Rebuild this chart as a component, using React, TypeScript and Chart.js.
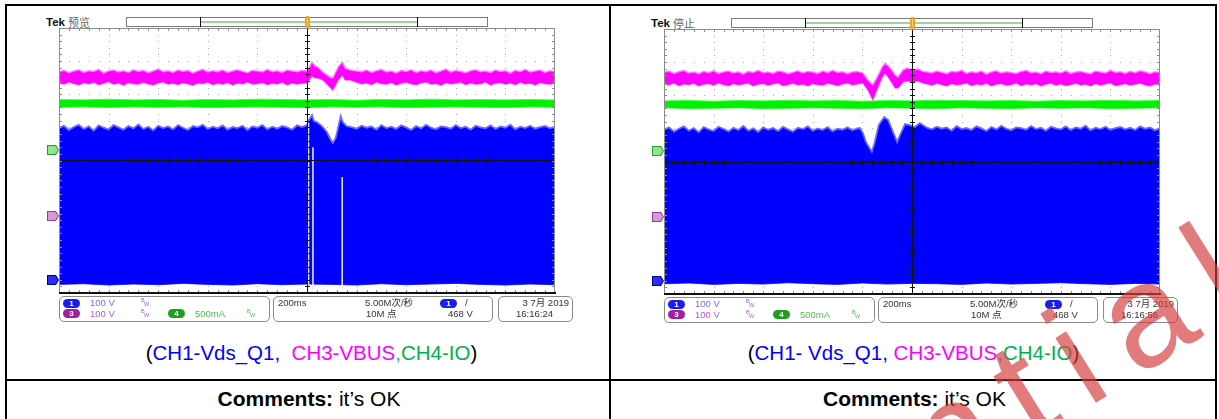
import React, { useEffect, useRef } from "react";
import { Chart, registerables } from "chart.js";

Chart.register(...registerables);

// ---------------- DATA (screen divisions: x 0..10, y -4..+4, 0 = centre) ----------------
const STEP = 0.1; // envelope sample spacing (div)
const STEP_SLOW = 0.5; // spacing of quiet envelopes (div)

// ---- Left capture (Tek 预览) ----
const L3_PRE_HI = [
  2.68, 2.72, 2.65, 2.7, 2.74, 2.66, 2.71, 2.69, 2.75, 2.64,
  2.7, 2.73, 2.67, 2.71, 2.66, 2.74, 2.69, 2.72, 2.65, 2.7,
  2.76, 2.68, 2.71, 2.66, 2.73, 2.69, 2.72, 2.64, 2.7, 2.75,
  2.67, 2.71, 2.68, 2.73, 2.66, 2.7, 2.74, 2.69, 2.65, 2.72,
  2.7, 2.67, 2.75, 2.68, 2.71, 2.66, 2.73, 2.7, 2.68, 2.72,
];
const L3_PRE_LO = [
  2.34, 2.3, 2.37, 2.32, 2.28, 2.35, 2.31, 2.36, 2.29, 2.33,
  2.38, 2.3, 2.34, 2.27, 2.35, 2.32, 2.3, 2.36, 2.31, 2.28,
  2.34, 2.37, 2.3, 2.33, 2.29, 2.35, 2.31, 2.27, 2.34, 2.32,
  2.36, 2.29, 2.33, 2.3, 2.35, 2.28, 2.34, 2.31, 2.37, 2.3,
  2.32, 2.35, 2.29, 2.33, 2.31, 2.36, 2.28, 2.34, 2.3, 2.33,
];
const L3_EVT_T = [5.0, 5.04, 5.1, 5.16, 5.22, 5.32, 5.46, 5.52, 5.63, 5.71, 5.77, 5.87];
const L3_EVT_HI = [2.7, 2.79, 2.97, 2.85, 2.82, 2.67, 2.52, 2.49, 2.82, 2.97, 2.79, 2.73];
const L3_EVT_LO = [2.34, 2.43, 2.55, 2.49, 2.49, 2.43, 2.22, 2.13, 2.43, 2.58, 2.43, 2.43];
const L3_POST_T0 = 6.0;
const L3_POST_HI = [
  2.7, 2.68, 2.73, 2.66, 2.71, 2.75, 2.67, 2.7, 2.64, 2.72,
  2.69, 2.74, 2.66, 2.71, 2.68, 2.73, 2.65, 2.7, 2.76, 2.67,
  2.72, 2.69, 2.65, 2.71, 2.74, 2.68, 2.7, 2.66, 2.73, 2.69,
  2.71, 2.64, 2.72, 2.68, 2.75, 2.67, 2.7, 2.73, 2.66, 2.71, 2.69,
];
const L3_POST_LO = [
  2.36, 2.31, 2.34, 2.29, 2.37, 2.32, 2.3, 2.35, 2.28, 2.33,
  2.36, 2.31, 2.29, 2.34, 2.37, 2.3, 2.32, 2.27, 2.35, 2.31,
  2.33, 2.36, 2.29, 2.34, 2.3, 2.32, 2.37, 2.28, 2.33, 2.35,
  2.3, 2.34, 2.29, 2.36, 2.31, 2.33, 2.28, 2.35, 2.32, 2.3, 2.34,
];
const L4_HI = [1.84, 1.83, 1.85, 1.83, 1.84, 1.82, 1.84, 1.83, 1.85, 1.84, 1.83, 1.84, 1.82, 1.84, 1.83, 1.85, 1.83, 1.84, 1.83, 1.84, 1.83];
const L4_LO = [1.61, 1.62, 1.6, 1.62, 1.61, 1.62, 1.6, 1.61, 1.62, 1.61, 1.6, 1.62, 1.61, 1.62, 1.6, 1.61, 1.62, 1.61, 1.6, 1.62, 1.61];
const L1_PRE_HI = [
  0.98, 1.05, 0.92, 1.01, 1.08, 0.95, 1.03, 0.9, 1.06, 0.99,
  0.94, 1.07, 1.0, 0.93, 1.04, 0.97, 1.09, 0.95, 1.02, 0.91,
  1.05, 0.98, 1.03, 0.94, 1.07, 0.99, 0.92, 1.04, 1.0, 1.08,
  0.95, 1.02, 0.97, 1.06, 0.93, 1.01, 0.98, 1.05, 0.92, 1.03,
  0.99, 1.07, 0.94, 1.02, 0.96, 1.04, 1.0, 0.93, 1.06, 1.01,
];
const L1_EVT_T = [5.0, 5.04, 5.1, 5.14, 5.2, 5.3, 5.4, 5.48, 5.52, 5.58, 5.64, 5.68, 5.72, 5.8];
const L1_EVT_HI = [1.07, 1.22, 1.37, 1.19, 1.16, 1.04, 0.86, 0.62, 0.53, 0.68, 1.07, 1.34, 1.16, 1.04];
const L1_POST_T0 = 5.9;
const L1_POST_HI = [
  1.01, 0.96, 1.05, 0.99, 1.03, 0.93, 1.07, 0.98, 1.02, 0.95,
  1.06, 1.0, 0.92, 1.04, 0.97, 1.08, 0.99, 0.94, 1.03, 1.01,
  0.96, 1.07, 0.98, 1.02, 0.93, 1.05, 1.0, 0.97, 1.06, 0.95,
  1.03, 0.99, 1.08, 0.94, 1.02, 0.98, 1.05, 0.96, 1.01, 1.04,
  0.97, 1.02,
];
const L1_LO = [-3.74, -3.72, -3.76, -3.73, -3.75, -3.71, -3.74, -3.76, -3.72, -3.75, -3.73, -3.74, -3.76, -3.72, -3.75, -3.73, -3.71, -3.74, -3.76, -3.73, -3.75];
const L1_GAP_T = [5.03, 5.12, 5.71];
const L1_GAP_TOP = [1.13, 0.4, -0.5];

// ---- Right capture (Tek 停止) ----
const R3_PRE_HI = [
  2.69, 2.73, 2.66, 2.71, 2.75, 2.67, 2.7, 2.65, 2.72, 2.68,
  2.74, 2.66, 2.7, 2.73, 2.67, 2.71, 2.64, 2.72, 2.69, 2.75,
  2.68, 2.7, 2.66, 2.73, 2.71, 2.65, 2.69, 2.74, 2.67, 2.72,
  2.7, 2.66, 2.73, 2.68, 2.75, 2.69, 2.71, 2.65, 2.7, 2.72,
];
const R3_PRE_LO = [
  2.35, 2.31, 2.37, 2.29, 2.34, 2.32, 2.36, 2.28, 2.33, 2.35,
  2.3, 2.37, 2.32, 2.29, 2.35, 2.31, 2.34, 2.36, 2.28, 2.33,
  2.35, 2.3, 2.34, 2.37, 2.29, 2.32, 2.36, 2.31, 2.33, 2.28,
  2.35, 2.32, 2.3, 2.36, 2.33, 2.29, 2.34, 2.37, 2.31, 2.34,
];
const R3_EVT_T = [4.01, 4.11, 4.21, 4.29, 4.4, 4.46, 4.56, 4.66, 4.72, 4.82, 4.9, 5.02, 5.12, 5.22];
const R3_EVT_HI = [2.67, 2.46, 2.31, 2.52, 2.85, 2.97, 2.82, 2.61, 2.55, 2.76, 2.82, 2.76, 2.79, 2.72];
const R3_EVT_LO = [2.37, 2.16, 1.86, 2.16, 2.55, 2.67, 2.46, 2.22, 2.22, 2.4, 2.43, 2.4, 2.43, 2.37];
const R3_POST_T0 = 5.3;
const R3_POST_HI = [
  2.7, 2.67, 2.73, 2.69, 2.65, 2.72, 2.7, 2.75, 2.66, 2.71,
  2.68, 2.73, 2.64, 2.7, 2.74, 2.67, 2.71, 2.69, 2.66, 2.72,
  2.75, 2.68, 2.7, 2.65, 2.73, 2.69, 2.71, 2.67, 2.74, 2.66,
  2.7, 2.72, 2.68, 2.65, 2.73, 2.7, 2.67, 2.75, 2.69, 2.71,
  2.66, 2.72, 2.68, 2.74, 2.7, 2.65, 2.71, 2.69,
];
const R3_POST_LO = [
  2.34, 2.3, 2.36, 2.32, 2.28, 2.35, 2.31, 2.33, 2.37, 2.29,
  2.34, 2.31, 2.36, 2.28, 2.33, 2.35, 2.3, 2.32, 2.37, 2.29,
  2.34, 2.31, 2.35, 2.28, 2.33, 2.36, 2.3, 2.34, 2.29, 2.32,
  2.36, 2.31, 2.33, 2.28, 2.35, 2.3, 2.34, 2.37, 2.29, 2.32,
  2.35, 2.3, 2.33, 2.36, 2.31, 2.28, 2.34, 2.32,
];
const R4_HI = [1.83, 1.84, 1.82, 1.84, 1.83, 1.85, 1.83, 1.84, 1.82, 1.84, 1.83, 1.85, 1.84, 1.83, 1.84, 1.82, 1.84, 1.83, 1.85, 1.83, 1.84];
const R4_LO = [1.62, 1.6, 1.61, 1.62, 1.6, 1.61, 1.62, 1.61, 1.6, 1.62, 1.61, 1.6, 1.62, 1.61, 1.6, 1.62, 1.61, 1.62, 1.6, 1.61, 1.62];
const R1_PRE_HI = [
  0.96, 1.03, 0.9, 0.99, 1.06, 0.93, 1.01, 0.88, 1.04, 0.97,
  0.92, 1.05, 0.98, 0.91, 1.02, 0.95, 1.07, 0.93, 1.0, 0.89,
  1.03, 0.96, 1.01, 0.92, 1.05, 0.97, 0.9, 1.02, 0.98, 1.06,
  0.93, 1.0, 0.95, 1.04, 0.91, 0.99, 0.96, 1.03, 0.94, 1.0,
];
const R1_EVT_T = [3.95, 4.01, 4.07, 4.19, 4.25, 4.33, 4.44, 4.52, 4.6, 4.7, 4.76, 4.86, 4.96, 5.06, 5.16];
const R1_EVT_HI = [1.01, 0.86, 0.59, 0.29, 0.59, 1.1, 1.34, 1.25, 0.95, 0.59, 0.8, 1.13, 1.1, 1.04, 1.16];
const R1_POST_T0 = 5.3;
const R1_POST_HI = [
  1.02, 0.97, 1.05, 0.99, 1.03, 0.93, 1.07, 0.98, 1.01, 0.95,
  1.06, 1.0, 0.92, 1.04, 0.97, 1.08, 0.99, 0.94, 1.03, 1.01,
  0.96, 1.07, 0.98, 1.02, 0.93, 1.05, 1.0, 0.97, 1.06, 0.95,
  1.03, 0.99, 1.08, 0.94, 1.02, 0.98, 1.05, 0.96, 1.01, 1.04,
  0.97, 1.02, 0.95, 1.06, 0.99, 1.03, 0.94, 1.01,
];
const R1_LO = [-3.69, -3.67, -3.71, -3.68, -3.7, -3.66, -3.69, -3.71, -3.67, -3.7, -3.68, -3.69, -3.71, -3.67, -3.7, -3.68, -3.66, -3.69, -3.71, -3.68, -3.7];

// ---------------- helpers ----------------
type P = { x: number; y: number };
const clock = (t0: number, step: number, v: number[]): P[] =>
  v.map((y, i) => ({ x: Math.round((t0 + i * step) * 1000) / 1000, y }));
const timed = (t: number[], v: number[]): P[] => t.map((x, i) => ({ x, y: v[i] }));

interface Spec {
  c3hi: P[]; c3lo: P[]; c4hi: P[]; c4lo: P[]; c1hi: P[]; c1lo: P[];
  gaps: { t: number; top: number }[];
}

const LEFT: Spec = {
  c3hi: [...clock(0, STEP, L3_PRE_HI), ...timed(L3_EVT_T, L3_EVT_HI), ...clock(L3_POST_T0, STEP, L3_POST_HI)],
  c3lo: [...clock(0, STEP, L3_PRE_LO), ...timed(L3_EVT_T, L3_EVT_LO), ...clock(L3_POST_T0, STEP, L3_POST_LO)],
  c4hi: clock(0, STEP_SLOW, L4_HI),
  c4lo: clock(0, STEP_SLOW, L4_LO),
  c1hi: [...clock(0, STEP, L1_PRE_HI), ...timed(L1_EVT_T, L1_EVT_HI), ...clock(L1_POST_T0, STEP, L1_POST_HI)],
  c1lo: clock(0, STEP_SLOW, L1_LO),
  gaps: L1_GAP_T.map((t, i) => ({ t, top: L1_GAP_TOP[i] })),
};
const RIGHT: Spec = {
  c3hi: [...clock(0, STEP, R3_PRE_HI), ...timed(R3_EVT_T, R3_EVT_HI), ...clock(R3_POST_T0, STEP, R3_POST_HI)],
  c3lo: [...clock(0, STEP, R3_PRE_LO), ...timed(R3_EVT_T, R3_EVT_LO), ...clock(R3_POST_T0, STEP, R3_POST_LO)],
  c4hi: clock(0, STEP_SLOW, R4_HI),
  c4lo: clock(0, STEP_SLOW, R4_LO),
  c1hi: [...clock(0, STEP, R1_PRE_HI), ...timed(R1_EVT_T, R1_EVT_HI), ...clock(R1_POST_T0, STEP, R1_POST_HI)],
  c1lo: clock(0, STEP_SLOW, R1_LO),
  gaps: [],
};

const C1 = "#0000ff";
const C3 = "#ff00ff";
const C4 = "#00f000";

// ---------------- graticule plugin ----------------
const graticule = {
  id: "graticule",
  beforeDatasetsDraw(chart: any) {
    const { ctx, scales } = chart;
    const sx = scales.x, sy = scales.y;
    ctx.save();
    ctx.fillStyle = "#a8a8a8";
    for (let i = 1; i < 10; i++) {
      if (i === 5) continue;
      const px = Math.round(sx.getPixelForValue(i));
      for (let j = 1; j < 40; j++) ctx.fillRect(px, Math.round(sy.getPixelForValue(-4 + j * 0.2)), 1, 1);
    }
    for (let j = -3; j <= 3; j++) {
      if (j === 0) continue;
      const py = Math.round(sy.getPixelForValue(j));
      for (let i = 1; i < 50; i++) ctx.fillRect(Math.round(sx.getPixelForValue(i * 0.2)), py, 1, 1);
    }
    ctx.restore();
  },
  afterDatasetsDraw(chart: any, _args: any, opts: any) {
    const { ctx, chartArea: a, scales } = chart;
    const sx = scales.x, sy = scales.y;
    ctx.save();
    ctx.fillStyle = "#8c8c8c";
    for (let i = 1; i < 50; i++) {
      const px = Math.round(sx.getPixelForValue(i * 0.2));
      ctx.fillRect(px, a.top, 1, 3);
      ctx.fillRect(px, a.bottom - 3, 1, 3);
    }
    for (let j = 1; j < 40; j++) {
      const py = Math.round(sy.getPixelForValue(-4 + j * 0.2));
      ctx.fillRect(a.left, py, 3, 1);
      ctx.fillRect(a.right - 3, py, 3, 1);
    }
    const cx = Math.round(sx.getPixelForValue(5));
    const cyRaw = sy.getPixelForValue(0);
    const cy = opts && opts.up ? Math.ceil(cyRaw) : Math.floor(cyRaw);
    ctx.fillStyle = "#111";
    ctx.fillRect(cx, a.top, 1, a.bottom - a.top);
    ctx.fillRect(a.left, cy, a.right - a.left, 1);
    for (let i = 1; i < 50; i++) {
      const px = Math.round(sx.getPixelForValue(i * 0.2));
      ctx.fillRect(px, cy - 2, 1, 5);
    }
    for (let j = 1; j < 40; j++) {
      const py = Math.round(sy.getPixelForValue(-4 + j * 0.2));
      ctx.fillRect(cx - 2, py, 5, 1);
    }
    ctx.strokeStyle = "#8c8c8c";
    ctx.lineWidth = 1;
    ctx.strokeRect(a.left + 0.5, a.top + 0.5, a.right - a.left - 1, a.bottom - a.top - 1);
    ctx.fillStyle = "#111";
    ctx.fillRect(a.left, a.bottom - 1, a.right - a.left + 1, 2);
    ctx.restore();
  },
};

// ---------------- small UI pieces ----------------
const F = '"Liberation Sans", Arial, sans-serif';
const CJK = '"Liberation Sans", "Noto Sans CJK SC", sans-serif';

function Txt(p: { x: number; y: number; c?: string; s?: number; b?: boolean; f?: string; children: any }) {
  const style: any = {
    position: "absolute",
    left: p.x,
    top: p.y,
    fontFamily: p.f || F,
    fontSize: p.s || 9.5,
    lineHeight: "11px",
    color: p.c || "#333",
    fontWeight: p.b ? 700 : 400,
    whiteSpace: "pre",
  };
  return <div style={style}>{p.children}</div>;
}

function Pill({ x, y, bg, n }: { x: number; y: number; bg: string; n: string }) {
  return (
    <div
      style={{
        position: "absolute", left: x, top: y, width: 17, height: 9, borderRadius: 5, background: bg,
        color: "#fff", fontFamily: F, fontWeight: 700, fontSize: 8, lineHeight: "9px", textAlign: "center",
      }}
    >
      {n}
    </div>
  );
}

function Bw({ x, y, c }: { x: number; y: number; c: string }) {
  return (
    <div style={{ position: "absolute", left: x, top: y, width: 8, height: 9, fontFamily: F, fontSize: 5.5, color: c }}>
      <span style={{ position: "absolute", left: 0, top: -1 }}>B</span>
      <span style={{ position: "absolute", left: 3, top: 3 }}>W</span>
    </div>
  );
}

function Tag({ y, bg, bd }: { y: number; bg: string; bd: string }) {
  return (
    <div
      style={{
        position: "absolute", left: -12, top: y - 5, width: 12, height: 10, background: bd,
        clipPath: "polygon(0 0, 75% 0, 100% 50%, 75% 100%, 0 100%)",
      }}
    >
      <div
        style={{
          position: "absolute", left: 1, top: 1, width: 10, height: 8, background: bg,
          clipPath: "polygon(0 0, 72% 0, 100% 50%, 72% 100%, 0 100%)",
        }}
      />
    </div>
  );
}

function Scope({ ox, oy, status, date, time, spec, up }: { ox: number; oy: number; status: string; date: string; time: string; spec: Spec; up: boolean }) {
  const ref = useRef<HTMLCanvasElement>(null);
  useEffect(() => {
    const line = (data: P[], color: string, width: number, fill: any, bg: string, order: number) => ({
      data, borderColor: color, borderWidth: width, backgroundColor: bg, fill, order, pointRadius: 0, tension: 0,
    });
    const datasets: any[] = [
      line(spec.c3hi, "rgba(255,120,255,0.9)", 1.5, "+1", C3, 1),
      line(spec.c3lo, "rgba(255,120,255,0.9)", 1.5, false, C3, 1),
      line(spec.c4hi, "#40ff40", 1, "+1", C4, 2),
      line(spec.c4lo, "#40ff40", 1, false, C4, 2),
      line(spec.c1hi, "#6a6aff", 1.8, "+1", C1, 3),
      line(spec.c1lo, "#3a3aff", 1, false, C1, 3),
      ...spec.gaps.map((g) => line([{ x: g.t, y: g.top }, { x: g.t, y: -3.9 }], "rgba(235,235,255,0.95)", 1.6, false, "transparent", 0)),
    ];
    const chart = new Chart(ref.current!, {
      type: "line",
      data: { datasets },
      options: {
        responsive: false,
        animation: false,
        devicePixelRatio: 1,
        events: [],
        layout: { padding: { left: 3, top: 3, right: 4, bottom: 4 } },
        scales: {
          x: { type: "linear", min: 0, max: 10, display: false },
          y: { type: "linear", min: -4, max: 4, display: false },
        },
        plugins: { legend: { display: false }, tooltip: { enabled: false }, graticule: { up } },
      },
      plugins: [graticule],
    } as any);
    return () => chart.destroy();
  }, [spec, up]);

  const box = (l: number, w: number) => (
    <div
      style={{
        position: "absolute", left: l, top: 268, width: w, height: 26, boxSizing: "border-box",
        border: "1px solid #8a8a8a", borderRadius: 5,
      }}
    />
  );

  return (
    <div style={{ position: "absolute", left: ox, top: oy }}>
      {/* header */}
      <Txt x={-13} y={-11} s={11.5} b c="#111">Tek</Txt>
      <Txt x={9} y={-11} s={11} c="#666" f='"Noto Sans CJK SC", sans-serif'>{status}</Txt>
      <div style={{ position: "absolute", left: 67, top: -11, width: 362, height: 10, boxSizing: "border-box", border: "1px solid #7a7a7a", background: "#fff" }}>
        <div style={{ position: "absolute", left: 73, top: 3, width: 217, height: 2, background: "#9ad89a" }} />
        <div style={{ position: "absolute", left: 73, top: -1, width: 1, height: 10, background: "#111" }} />
        <div style={{ position: "absolute", left: 290, top: -1, width: 1, height: 10, background: "#111" }} />
      </div>
      <div style={{ position: "absolute", left: 246, top: -12, width: 5, height: 12, background: "#f3a020", borderRadius: 2 }} />
      <div style={{ position: "absolute", left: 248, top: -10, width: 1, height: 8, background: "#ffd890" }} />
      {/* ground markers */}
      <Tag y={122} bg="#8de88d" bd="#2a9a2a" />
      <Tag y={188} bg="#d79ad7" bd="#9a3a9a" />
      <Tag y={252} bg="#2c2cff" bd="#00008a" />
      {/* graticule + waveforms */}
      <canvas ref={ref} width={503} height={272} style={{ position: "absolute", left: -3, top: -3, width: 503, height: 272 }} />
      {/* info panel */}
      {box(0, 211)}
      {box(214, 220)}
      {box(439, 75)}
      <Pill x={4} y={271} bg="#1c1cf0" n="1" />
      <Txt x={31} y={269} c="#6f6ff5">100 V</Txt>
      <Bw x={82} y={270} c="#6f6ff5" />
      <Pill x={4} y={281} bg="#a0209f" n="3" />
      <Txt x={31} y={280} c="#c05cc0">100 V</Txt>
      <Bw x={82} y={281} c="#c05cc0" />
      <Pill x={109} y={281} bg="#1ea01e" n="4" />
      <Txt x={136} y={280} c="#4cbf4c">500mA</Txt>
      <Bw x={188} y={281} c="#4cbf4c" />
      <Txt x={219} y={269}>200ms</Txt>
      <Txt x={306} y={269} f={CJK}>5.00M次/秒</Txt>
      <Txt x={307} y={280} f={CJK}>10M 点</Txt>
      <Pill x={381} y={271} bg="#1c1cf0" n="1" />
      <Txt x={406} y={269}>/</Txt>
      <Txt x={389} y={280}>468 V</Txt>
      <div style={{ position: "absolute", left: 439, top: 269, width: 71, textAlign: "right", fontFamily: CJK, fontSize: 9.5, lineHeight: "11px", color: "#333" }}>{date}</div>
      <Txt x={457} y={280}>{time}</Txt>
    </div>
  );
}

function Caption({ cx, parts }: { cx: number; parts: [string, string][] }) {
  return (
    <div style={{ position: "absolute", left: cx - 300, top: 341, width: 600, textAlign: "center", fontFamily: F, fontSize: 20.5, lineHeight: "24px", whiteSpace: "pre" }}>
      {parts.map(([t, c], i) => (
        <span key={i} style={{ color: c }}>{t}</span>
      ))}
    </div>
  );
}

function Comment({ cx }: { cx: number }) {
  return (
    <div style={{ position: "absolute", left: cx - 300, top: 387, width: 600, textAlign: "center", fontFamily: F, fontSize: 21, lineHeight: "24px", color: "#000", whiteSpace: "pre" }}>
      <b>Comments:</b> it’s OK
    </div>
  );
}

const BLK = "#000";
const BLU = "#0000ff";
const MAG = "#ff00ff";
const CYN = "#00b0f0";
const GRN = "#00b050";

export default function App() {
  const bar = (l: number, t: number, w: number, h: number) => (
    <div style={{ position: "absolute", left: l, top: t, width: w, height: h, background: "#000" }} />
  );
  return (
    <div style={{ position: "fixed", left: 0, top: 0, width: 1219, height: 419, background: "#fff", overflow: "hidden", fontFamily: F }}>
      <Scope ox={59} oy={28} status="预览" date="3 7月 2019" time="16:16:24" spec={LEFT} up={false} />
      <Scope ox={664} oy={29} status="停止" date="3 7月 2019" time="16:16:56" spec={RIGHT} up={true} />
      <Caption
        cx={311.5}
        parts={[["(", BLK], ["CH1-Vds_Q1,", BLU], ["  ", BLK], ["CH3-VBUS", MAG], [",", CYN], ["CH4-IO", GRN], [")", BLK]]}
      />
      <Caption
        cx={913.5}
        parts={[["(", BLK], ["CH1- Vds_Q1,", BLU], [" ", BLK], ["CH3-VBUS", MAG], [",", CYN], ["CH4-IO", GRN], [")", BLK]]}
      />
      <Comment cx={309} />
      <Comment cx={914.5} />
      {/* table rules */}
      {bar(5, 4, 1212, 2)}
      {bar(5, 4, 2, 415)}
      {bar(1215, 4, 2, 415)}
      {bar(609, 4, 2, 415)}
      {bar(5, 379, 1212, 2)}
      {/* watermark */}
      <div
        style={{
          position: "absolute", left: 371, top: 734, transformOrigin: "0 123px", transform: "rotate(-32deg)",
          fontFamily: F, fontWeight: 400, fontSize: 145, lineHeight: "145px", letterSpacing: 25,
          color: "rgba(212,60,60,0.68)", whiteSpace: "nowrap",
        }}
      >
        Confidential
      </div>
    </div>
  );
}
